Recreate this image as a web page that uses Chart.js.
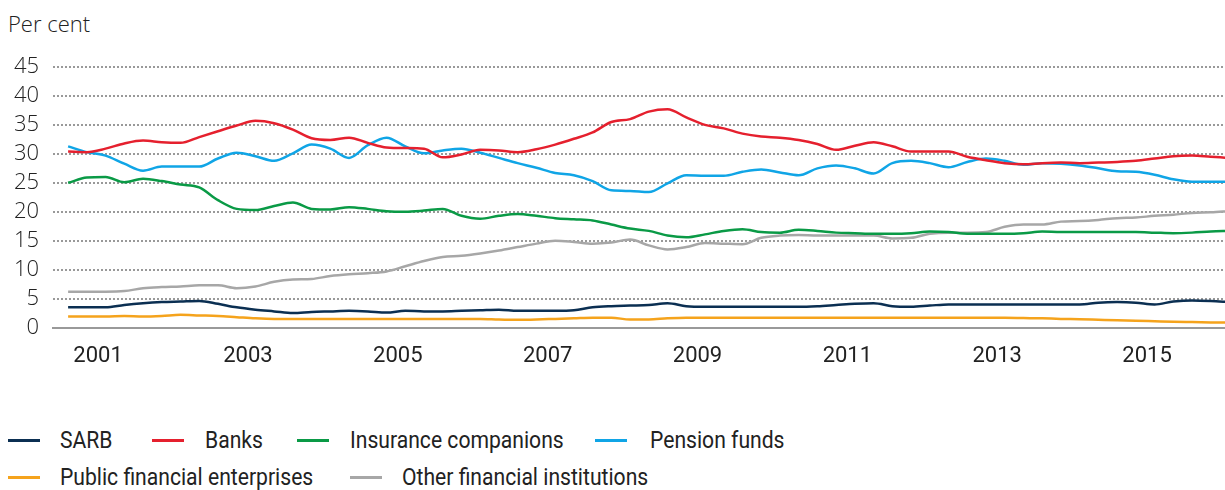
<!DOCTYPE html>
<html>
<head>
<meta charset="utf-8">
<script src="https://cdn.jsdelivr.net/npm/chart.js@4.4.1/dist/chart.umd.min.js"></script>
<style>
  body { margin: 0; background: #fff; width: 1225px; height: 490px; overflow: hidden; position: relative; }
  #unit { position: absolute; left: 8px; top: 8px; font: 300 22px "Open Sans", sans-serif; color: #222; }
  #wrap { position: absolute; left: 0; top: 0; width: 1225px; height: 400px; }
  .mark { position: absolute; width: 32px; height: 3px; }
  .txt { position: absolute; font: 24px Roboto, sans-serif; color: #222; line-height: 30px;
         transform: scaleX(0.88); transform-origin: left center; white-space: nowrap; }
</style>
</head>
<body>
<div id="unit">Per cent</div>
<div id="wrap"><canvas id="chart" width="1225" height="400"></canvas></div>
<div id="legend"></div>
<script>
// quarterly observations, first point about Q3 2000
const startYear = 2000.6;
const yearTicks = [2001, 2003, 2005, 2007, 2009, 2011, 2013, 2015];
const yTicks = [0, 5, 10, 15, 20, 25, 30, 35, 40, 45];

const seriesNames = ['SARB', 'Banks', 'Insurance companions', 'Pension funds',
  'Public financial enterprises', 'Other financial institutions'];
const seriesColors = ['#0b2f52', '#e5202e', '#0a9a46', '#10a5e6', '#f5a31c', '#a7a7a7'];

const sarb = [3.5, 3.5, 3.5, 3.9, 4.2, 4.4, 4.5, 4.6, 4.1, 3.5, 3.1, 2.8, 2.5, 2.7, 2.8, 2.9,
  2.8, 2.6, 2.9, 2.8, 2.8, 2.9, 3.0, 3.1, 2.9, 2.9, 2.9, 3.0, 3.5, 3.7, 3.8, 3.9,
  4.2, 3.7, 3.6, 3.6, 3.6, 3.6, 3.6, 3.6, 3.7, 3.9, 4.1, 4.2, 3.7, 3.6, 3.8, 4.0,
  4.0, 4.0, 4.0, 4.0, 4.0, 4.0, 4.0, 4.3, 4.4, 4.3, 4.0, 4.5, 4.7, 4.6, 4.4];
const banks = [30.4, 30.3, 30.9, 31.8, 32.3, 32.0, 31.9, 32.9, 33.9, 34.9, 35.7, 35.3, 34.2, 32.7, 32.4, 32.8,
  31.9, 31.1, 31.0, 30.9, 29.4, 29.9, 30.7, 30.6, 30.3, 30.8, 31.6, 32.6, 33.7, 35.5, 36.0, 37.3,
  37.7, 36.3, 35.0, 34.4, 33.5, 33.0, 32.8, 32.4, 31.7, 30.7, 31.4, 32.0, 31.3, 30.4, 30.4, 30.4,
  29.5, 28.9, 28.4, 28.2, 28.4, 28.5, 28.4, 28.5, 28.6, 28.8, 29.2, 29.6, 29.7, 29.5, 29.3];
const insurance = [25.0, 25.9, 26.0, 25.1, 25.7, 25.3, 24.7, 24.2, 22.0, 20.5, 20.3, 21.0, 21.6, 20.5, 20.4, 20.8,
  20.5, 20.1, 20.0, 20.2, 20.5, 19.3, 18.8, 19.3, 19.6, 19.3, 18.9, 18.7, 18.5, 17.8, 17.1, 16.7,
  15.9, 15.6, 16.1, 16.7, 17.0, 16.5, 16.4, 16.9, 16.7, 16.4, 16.3, 16.2, 16.2, 16.3, 16.6, 16.5,
  16.2, 16.2, 16.2, 16.3, 16.6, 16.5, 16.5, 16.5, 16.5, 16.5, 16.4, 16.3, 16.4, 16.6, 16.7];
const pension = [31.3, 30.3, 29.7, 28.3, 27.1, 27.8, 27.8, 27.8, 29.2, 30.2, 29.6, 28.8, 30.1, 31.6, 30.9, 29.3,
  31.5, 32.8, 31.3, 30.1, 30.6, 30.9, 30.2, 29.3, 28.4, 27.6, 26.7, 26.3, 25.3, 23.7, 23.6, 23.4,
  24.9, 26.3, 26.2, 26.2, 26.9, 27.3, 26.8, 26.3, 27.5, 28.0, 27.5, 26.6, 28.4, 28.8, 28.4, 27.7,
  28.6, 29.2, 28.8, 28.1, 28.4, 28.3, 28.0, 27.5, 27.0, 26.9, 26.4, 25.6, 25.2, 25.2, 25.2];
const publicEnt = [1.9, 1.9, 1.9, 2.0, 1.9, 2.0, 2.2, 2.1, 2.0, 1.8, 1.6, 1.5, 1.5, 1.5, 1.5, 1.5,
  1.5, 1.5, 1.5, 1.5, 1.5, 1.5, 1.5, 1.4, 1.35, 1.4, 1.5, 1.6, 1.7, 1.7, 1.4, 1.4,
  1.6, 1.7, 1.7, 1.7, 1.7, 1.7, 1.7, 1.7, 1.7, 1.7, 1.7, 1.7, 1.7, 1.7, 1.7, 1.7,
  1.7, 1.7, 1.7, 1.65, 1.6, 1.5, 1.45, 1.35, 1.25, 1.2, 1.1, 1.0, 0.95, 0.9, 0.85];
const otherFin = [6.2, 6.2, 6.2, 6.3, 6.8, 7.0, 7.1, 7.3, 7.3, 6.8, 7.1, 7.9, 8.3, 8.4, 8.9, 9.2,
  9.4, 9.7, 10.6, 11.5, 12.2, 12.4, 12.8, 13.3, 13.9, 14.5, 15.0, 14.8, 14.5, 14.7, 15.2, 14.2,
  13.5, 13.9, 14.6, 14.5, 14.4, 15.5, 15.9, 16.0, 15.9, 15.9, 15.9, 15.9, 15.4, 15.5, 16.2, 16.4,
  16.4, 16.5, 17.4, 17.8, 17.8, 18.3, 18.4, 18.6, 18.9, 19.0, 19.3, 19.5, 19.8, 19.9, 20.1];

const allSeries = [sarb, banks, insurance, pension, publicEnt, otherFin];
const toPoints = arr => arr.map((v, i) => ({ x: startYear + i * 0.25, y: v }));

const datasets = allSeries.map((arr, k) => ({
  label: seriesNames[k],
  data: toPoints(arr),
  borderColor: seriesColors[k],
  backgroundColor: seriesColors[k],
  borderWidth: 2.5,
  pointRadius: 0,
  cubicInterpolationMode: 'monotone'
}));

const chart = new Chart(document.getElementById('chart'), {
  type: 'line',
  data: { datasets: datasets },
  options: {
    responsive: false,
    animation: false,
    layout: { padding: { left: 0, right: 0, top: 67, bottom: 14 } },
    plugins: { legend: { display: false }, tooltip: { enabled: false } },
    scales: {
      x: {
        type: 'linear',
        min: 2000.4,
        max: 2016.04,
        afterBuildTicks: s => { s.ticks = yearTicks.map(v => ({ value: v })); },
        grid: { display: false, drawTicks: false },
        border: { display: true, color: '#999', width: 2 },
        ticks: { color: '#222', font: { family: 'Roboto, sans-serif', size: 22 }, padding: 16,
          maxRotation: 0, autoSkip: false, callback: v => String(v) }
      },
      y: {
        min: 0,
        max: 45,
        afterBuildTicks: s => { s.ticks = yTicks.map(v => ({ value: v })); },
        border: { display: false, dash: [2, 2] },
        grid: {
          drawTicks: false,
          lineWidth: 2,
          color: ctx => (ctx.tick && ctx.tick.value === 0) ? 'rgba(0,0,0,0)' : '#999'
        },
        ticks: { color: '#222', padding: 14, autoSkip: false,
          font: { family: '"Open Sans", sans-serif', size: 22, weight: 300 } }
      }
    }
  }
});

// legend: two rows, placed as in the original layout
const legendPos = [
  { mark: 8, text: 60, y: 440 }, { mark: 152, text: 205, y: 440 },
  { mark: 297, text: 350, y: 440 }, { mark: 595, text: 650, y: 440 },
  { mark: 8, text: 60, y: 477 }, { mark: 350, text: 402, y: 477 }
];
const legend = document.getElementById('legend');
seriesNames.forEach((name, k) => {
  const p = legendPos[k];
  const m = document.createElement('div');
  m.className = 'mark';
  m.style.cssText = 'left:' + p.mark + 'px;top:' + (p.y - 1.5) + 'px;background:' + seriesColors[k];
  const t = document.createElement('div');
  t.className = 'txt';
  t.style.cssText = 'left:' + p.text + 'px;top:' + (p.y - 15) + 'px';
  t.textContent = name;
  legend.appendChild(m);
  legend.appendChild(t);
});
</script>
</body>
</html>
